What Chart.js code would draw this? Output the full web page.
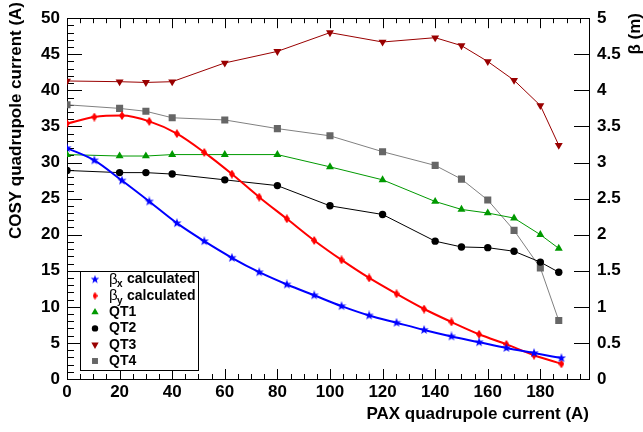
<!DOCTYPE html>
<html>
<head>
<meta charset="utf-8">
<script src="https://cdn.jsdelivr.net/npm/chart.js@4/dist/chart.umd.min.js"></script>
<style>
  html, body { margin: 0; padding: 0; background: #fff; }
</style>
</head>
<body>
<canvas id="chart" width="643" height="432"></canvas>
<script>
// measured COSY quadrupole currents (A) vs PAX current (A)
const qtCurrent = [0, 20, 30, 40, 60, 80, 100, 120, 140, 150, 160, 170, 180, 187];
const qt1 = [31.1, 30.9, 30.9, 31.1, 31.1, 31.1, 29.4, 27.6, 24.6, 23.5, 23.0, 22.3, 20.0, 18.1];
const qt2 = [28.9, 28.6, 28.6, 28.4, 27.6, 26.8, 24.0, 22.8, 19.1, 18.3, 18.2, 17.7, 16.2, 14.8];
const qt3 = [41.3, 41.2, 41.1, 41.2, 43.8, 45.4, 48.0, 46.7, 47.3, 46.2, 44.0, 41.4, 37.9, 32.4];
const qt4 = [38.0, 37.5, 37.1, 36.2, 35.9, 34.7, 33.7, 31.5, 29.6, 27.7, 24.8, 20.6, 15.4, 8.1];

// calculated beta functions (m)
const betaCurrent = [0, 10.4, 20.9, 31.3, 41.8, 52.2, 62.7, 73.1, 83.6, 94, 104.4, 114.9, 125.3, 135.8, 146.2, 156.7, 167.1, 177.6, 188];
const betaX = [3.20, 3.03, 2.75, 2.46, 2.16, 1.91, 1.68, 1.48, 1.31, 1.16, 1.01, 0.88, 0.78, 0.68, 0.59, 0.51, 0.43, 0.36, 0.29];
const betaY = [3.54, 3.63, 3.65, 3.57, 3.40, 3.14, 2.84, 2.52, 2.22, 1.92, 1.65, 1.40, 1.18, 0.97, 0.79, 0.62, 0.48, 0.33, 0.21];

const xTicks = [0, 20, 40, 60, 80, 100, 120, 140, 160, 180];
const yTicks = [0, 5, 10, 15, 20, 25, 30, 35, 40, 45, 50];
const y2Ticks = [0, 0.5, 1, 1.5, 2, 2.5, 3, 3.5, 4, 4.5, 5];

const FONT = '"Liberation Sans", Arial, Helvetica, sans-serif';

function marker(w, h, color, path) {
    const c = document.createElement('canvas');
    c.width = w; c.height = h;
    const g = c.getContext('2d');
    g.fillStyle = color;
    g.beginPath();
    path(g, w, h);
    g.closePath();
    g.fill();
    return c;
}
const star = (ro, ri) => (g, w, h) => {
    for (let i = 0; i < 10; i++) {
        const r = i % 2 ? ri : ro;
        const a = -Math.PI / 2 + i * Math.PI / 5;
        g.lineTo(w / 2 + r * Math.cos(a), h / 2 + r * Math.sin(a));
    }
};
const diamond = (g, w, h) => {
    g.moveTo(w / 2, 0); g.lineTo(w, h / 2); g.lineTo(w / 2, h); g.lineTo(0, h / 2);
};
const starImg = marker(10, 10, '#0000ff', star(4.9, 2.0));
const diamondImg = marker(6, 9, '#ff0000', diamond);
const starSmall = marker(10, 10, '#0000ff', star(4.5, 1.8));
const diamondSmall = marker(5, 8, '#ff0000', diamond);

const pts = (xs, ys) => xs.map((x, i) => ({ x: x, y: ys[i] }));

const datasets = [
    { label: 'βx calculated', data: pts(betaCurrent, betaX), yAxisID: 'y2', borderColor: '#0000ff', backgroundColor: '#0000ff',
      borderWidth: 2, pointStyle: starImg, pointRadius: 5, cubicInterpolationMode: 'monotone', legendStyle: starSmall },
    { label: 'βy calculated', data: pts(betaCurrent, betaY), yAxisID: 'y2', borderColor: '#ff0000', backgroundColor: '#ff0000',
      borderWidth: 2, pointStyle: diamondImg, pointRadius: 5, cubicInterpolationMode: 'monotone', legendStyle: diamondSmall },
    { label: 'QT1', data: pts(qtCurrent, qt1), yAxisID: 'y', borderColor: '#009900', backgroundColor: '#009900',
      borderWidth: 1, pointStyle: 'triangle', pointRadius: 4.6 },
    { label: 'QT2', data: pts(qtCurrent, qt2), yAxisID: 'y', borderColor: '#000000', backgroundColor: '#000000',
      borderWidth: 1, pointStyle: 'circle', pointRadius: 3.7 },
    { label: 'QT3', data: pts(qtCurrent, qt3), yAxisID: 'y', borderColor: '#990000', backgroundColor: '#990000',
      borderWidth: 1, pointStyle: 'triangle', pointRotation: 180, pointRadius: 4.6 },
    { label: 'QT4', data: pts(qtCurrent, qt4), yAxisID: 'y', borderColor: '#808080', backgroundColor: '#666666',
      borderWidth: 1, pointStyle: 'rect', pointRadius: 5 }
];
datasets.forEach(d => { d.pointBorderWidth = 0; d.fill = false; });

// ROOT style frame with inward ticks, drawn from the scales
const rootFrame = {
    id: 'rootFrame',
    beforeDatasetsDraw(chart) {
        const { ctx, chartArea: a, scales: { x, y, y2 } } = chart;
        ctx.save();
        ctx.strokeStyle = '#000';
        ctx.lineWidth = 1;
        ctx.beginPath();
        for (let v = 0; v <= x.max; v += 5) {
            const px = Math.round(x.getPixelForValue(v)) + 0.5;
            const len = v % 20 === 0 ? 10 : 5;
            ctx.moveTo(px, a.bottom); ctx.lineTo(px, a.bottom - len);
            ctx.moveTo(px, a.top); ctx.lineTo(px, a.top + len);
        }
        for (let v = 0; v <= y.max; v += 1) {
            const py = Math.round(y.getPixelForValue(v)) + 0.5;
            const len = v % 5 === 0 ? 15 : 7;
            ctx.moveTo(a.left, py); ctx.lineTo(a.left + len, py);
        }
        y2Ticks.forEach(v => {
            const py = Math.round(y2.getPixelForValue(v)) + 0.5;
            ctx.moveTo(a.right, py); ctx.lineTo(a.right - 15, py);
        });
        ctx.stroke();
        ctx.strokeRect(Math.round(a.left) + 0.5, Math.round(a.top) + 0.5, Math.round(a.right - a.left), Math.round(a.bottom - a.top));
        ctx.restore();
    },
    afterDraw(chart) {
        const { ctx, chartArea: a } = chart;
        ctx.save();
        ctx.fillStyle = '#000';
        ctx.textBaseline = 'middle';

        ctx.font = 'bold 17px ' + FONT;
        ctx.textAlign = 'right';
        ctx.fillText('PAX quadrupole current (A)', a.right, 414);

        ctx.save();
        ctx.translate(16, 2);
        ctx.rotate(-Math.PI / 2);
        ctx.fillText('COSY quadrupole current (A)', 0, 0);
        ctx.restore();

        ctx.save();
        ctx.translate(635, 13);
        ctx.rotate(-Math.PI / 2);
        ctx.fillText('β (m)', 0, 0);
        ctx.restore();

        // legend
        const lx = 80, ly = 271, lw = 118, lh = 99;
        ctx.fillStyle = '#fff';
        ctx.fillRect(lx, ly, lw, lh);
        ctx.strokeStyle = '#000';
        ctx.lineWidth = 1;
        ctx.strokeRect(lx + 0.5, ly + 0.5, lw, lh);
        const rowH = 16.3;
        datasets.forEach((d, i) => {
            const cy = ly + 8.5 + i * rowH;
            ctx.beginPath();
            ctx.fillStyle = d.backgroundColor;
            Chart.helpers.drawPoint(ctx, {
                pointStyle: d.legendStyle || d.pointStyle, rotation: d.pointRotation || 0,
                radius: d.pointStyle === 'circle' ? 3.2 : 4.2, borderWidth: 0
            }, 95, cy);
            ctx.fillStyle = '#000';
            ctx.textAlign = 'left';
            if (i < 2) {
                ctx.font = '15px ' + FONT;
                ctx.fillText('β', 109, cy);
                ctx.font = 'bold 10px ' + FONT;
                ctx.fillText(i === 0 ? 'x' : 'y', 117, cy + 5);
                ctx.font = 'bold 14px ' + FONT;
                ctx.fillText('calculated', 127, cy);
            } else {
                ctx.font = 'bold 14px ' + FONT;
                ctx.fillText(d.label, 109, cy);
            }
        });
        ctx.restore();
    }
};

const tickFont = { family: FONT, size: 17, weight: 'bold' };
const plain = v => String(v);

new Chart(document.getElementById('chart'), {
    type: 'line',
    data: { datasets: datasets },
    options: {
        responsive: false,
        animation: false,
        devicePixelRatio: 1,
        layout: { padding: { top: 4, left: 0, right: 0, bottom: 0 } },
        plugins: { legend: { display: false }, tooltip: { enabled: false } },
        scales: {
            x: {
                type: 'linear', min: 0, max: 198.5,
                grid: { display: false, drawTicks: false }, border: { display: false },
                ticks: { font: tickFont, color: '#000', padding: 3, maxRotation: 0, callback: plain },
                afterBuildTicks: s => { s.ticks = xTicks.map(v => ({ value: v })); },
                afterFit: s => { s.height = 53; }
            },
            y: {
                type: 'linear', position: 'left', min: 0, max: 50,
                grid: { display: false, drawTicks: false }, border: { display: false },
                ticks: { font: tickFont, color: '#000', padding: 7, callback: plain },
                afterBuildTicks: s => { s.ticks = yTicks.map(v => ({ value: v })); },
                afterFit: s => { s.width = 67; }
            },
            y2: {
                type: 'linear', position: 'right', min: 0, max: 5,
                grid: { display: false, drawTicks: false }, border: { display: false },
                ticks: { font: tickFont, color: '#000', padding: 8, callback: plain },
                afterBuildTicks: s => { s.ticks = y2Ticks.map(v => ({ value: v })); },
                afterFit: s => { s.width = 54; }
            }
        }
    },
    plugins: [rootFrame]
});
</script>
</body>
</html>
